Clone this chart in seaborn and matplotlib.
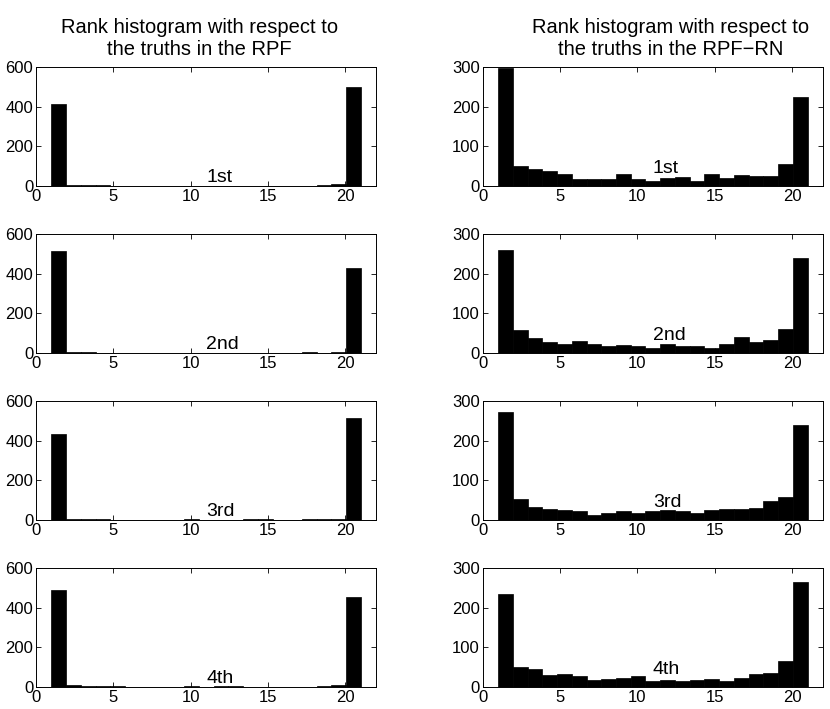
import numpy as np
import matplotlib
matplotlib.use("Agg")
import matplotlib.pyplot as plt
import seaborn as sns

ranks = list(range(1, 22))
labels = ["1st", "2nd", "3rd", "4th"]
titles = ["Rank histogram with respect to\nthe truths in the RPF",
          "Rank histogram with respect to\nthe truths in the RPF\u2212RN"]

rpf_1 = [412, 8, 4, 4, 3, 3, 2, 3, 1, 1, 2, 2, 3, 2, 1, 2, 3, 2, 5, 9, 500]
rpf_2 = [514, 6, 4, 3, 2, 2, 1, 1, 1, 2, 2, 2, 1, 1, 2, 1, 2, 4, 3, 7, 427]
rpf_3 = [432, 8, 4, 3, 2, 2, 2, 2, 2, 3, 2, 2, 2, 3, 3, 2, 2, 3, 4, 7, 513]
rpf_4 = [486, 8, 3, 4, 3, 2, 2, 2, 2, 4, 2, 3, 3, 2, 2, 2, 1, 2, 4, 9, 455]

rn_1 = [297, 51, 44, 38, 32, 19, 17, 19, 30, 18, 14, 21, 23, 14, 31, 20, 28, 25, 25, 57, 225]
rn_2 = [259, 58, 37, 29, 22, 30, 22, 19, 21, 19, 14, 23, 19, 19, 12, 23, 40, 28, 32, 60, 239]
rn_3 = [271, 54, 32, 27, 25, 23, 13, 19, 22, 18, 23, 26, 24, 18, 25, 29, 29, 30, 49, 58, 239]
rn_4 = [233, 51, 45, 30, 34, 28, 18, 21, 23, 28, 14, 17, 15, 17, 21, 16, 22, 33, 35, 65, 265]

left_ticks = [0, 200, 400, 600]
right_ticks = [0, 100, 200, 300]
x_ticks = [0, 5, 10, 15, 20]

sns.set_style("ticks")
plt.rcParams['font.family'] = ['Liberation Sans', 'DejaVu Sans']
plt.rcParams['xtick.direction'] = 'in'
plt.rcParams['ytick.direction'] = 'in'
plt.rcParams['text.color'] = 'black'
plt.rcParams['xtick.color'] = 'black'
plt.rcParams['ytick.color'] = 'black'
plt.rcParams['axes.edgecolor'] = 'black'
plt.rcParams['axes.titlecolor'] = 'black'

fig, axes = plt.subplots(4, 2, figsize=(8.3, 7.09), dpi=100)
fig.subplots_adjust(left=0.0434, right=0.9916, top=0.9055, bottom=0.031,
                    wspace=0.312, hspace=0.40)

cols = [[rpf_1, rpf_2, rpf_3, rpf_4], [rn_1, rn_2, rn_3, rn_4]]
yticks = [left_ticks, right_ticks]
title_x = [0.479, 0.553]

for c in range(2):
    for r in range(4):
        ax = axes[r, c]
        sns.histplot(x=ranks, weights=cols[c][r], bins=21, binrange=(1, 21),
                     color="black", edgecolor="black", linewidth=0.5,
                     alpha=1, ax=ax)
        ax.set_xlim(0, 22)
        ax.set_ylim(0, yticks[c][-1])
        ax.set_xticks(x_ticks)
        ax.set_yticks(yticks[c])
        ax.set_xlabel("")
        ax.set_ylabel("")
        ax.tick_params(axis='both', labelsize=12, length=3.5, width=0.6,
                       top=True, right=True, pad=2, colors='black')
        for s in ax.spines.values():
            s.set_linewidth(0.7)
            s.set_visible(True)
            s.set_color('black')
        ax.text(11, 45, labels[r], fontsize=14, ha='left', va='center',
                color='black')
        if r == 0:
            ax.set_title(titles[c], fontsize=14.5, pad=9, color='black',
                         x=title_x[c])

fig.savefig("out.png", dpi=100)
